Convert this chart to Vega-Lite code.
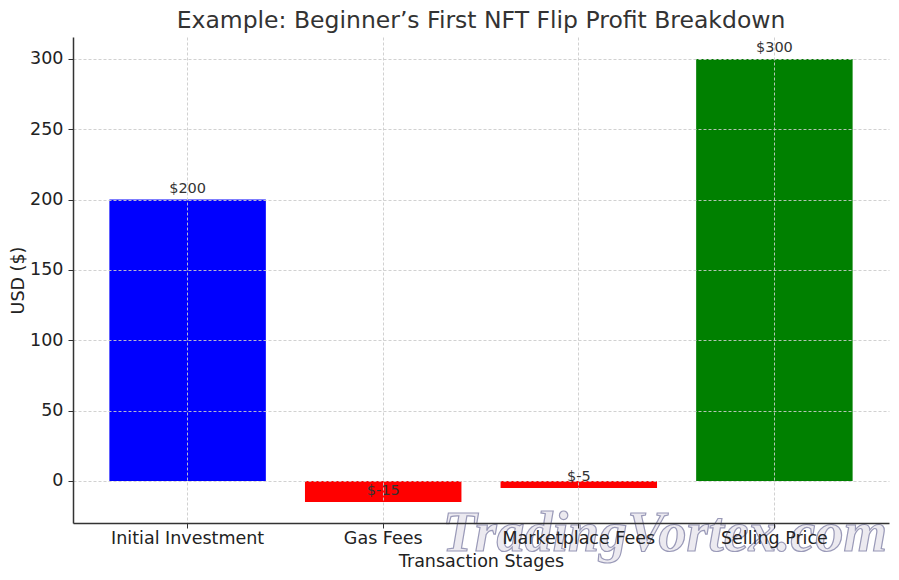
{"$schema":"https://vega.github.io/schema/vega-lite/v6.json","width":816,"height":486,"autosize":"none","padding":{"left":73,"top":37,"right":10,"bottom":57},"background":"white","title":{"text":"Example: Beginner’s First NFT Flip Profit Breakdown","font":"DejaVu Sans","fontSize":23.5,"fontWeight":"normal","color":"#333333","anchor":"middle","offset":5},"config":{"view":{"stroke":null},"font":"DejaVu Sans"},"data":{"values":[{"stage":"Initial Investment","usd":200,"label":"$200","color":"blue"},{"stage":"Gas Fees","usd":-15,"label":"$-15","color":"red"},{"stage":"Marketplace Fees","usd":-5,"label":"$-5","color":"red"},{"stage":"Selling Price","usd":300,"label":"$300","color":"green"}]},"layer":[{"mark":{"type":"bar"},"encoding":{"x":{"field":"stage","type":"nominal","sort":null,"scale":{"paddingInner":0.2,"paddingOuter":0.186},"axis":{"title":"Transaction Stages","titleFontSize":17.5,"titleFontWeight":"normal","titleColor":"#222222","titlePadding":6,"labelFontSize":17.5,"labelAngle":0,"labelColor":"#222222","labelPadding":1,"domainColor":"#333333","domainWidth":1.5,"tickColor":"#333333","tickSize":5,"grid":true,"gridColor":"#cccccc","gridDash":[3,2],"gridWidth":0.9,"zindex":1}},"y":{"field":"usd","type":"quantitative","scale":{"domain":[-29.9,315.6],"nice":false,"zero":false},"axis":{"title":"USD ($)","titleFontSize":17.5,"titleFontWeight":"normal","titleColor":"#222222","titlePadding":2,"labelFontSize":17.5,"labelColor":"#222222","labelPadding":5,"values":[0,50,100,150,200,250,300],"domainColor":"#333333","domainWidth":1.5,"tickColor":"#333333","tickSize":5,"grid":true,"gridColor":"#cccccc","gridDash":[3,2],"gridWidth":0.9,"zindex":1}},"color":{"field":"color","type":"nominal","scale":null,"legend":null}}},{"mark":{"type":"text","baseline":"bottom","dy":-4,"fontSize":14.5,"color":"#333333"},"encoding":{"x":{"field":"stage","type":"nominal","sort":null},"y":{"field":"usd","type":"quantitative"},"text":{"field":"label"}}},{"data":{"values":[{"stage":"Marketplace Fees","usd":-38,"mark":"TradingVortex.com"}]},"mark":{"type":"text","font":"Liberation Serif","fontStyle":"italic","fontWeight":"bold","fontSize":56,"dx":86,"fill":"#dcd8e4","fillOpacity":0.55,"stroke":"#9a9ab8","strokeWidth":1.2,"clip":false},"encoding":{"x":{"field":"stage","type":"nominal","sort":null},"y":{"field":"usd","type":"quantitative"},"text":{"field":"mark"}}}]}
